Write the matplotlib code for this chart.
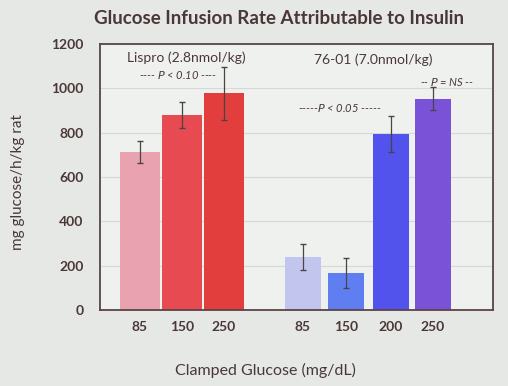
import matplotlib.pyplot as plt

# data
lispro_glucose = ['85', '150', '250']
lispro_gir = [712, 880, 978]
lispro_err = [50, 60, 120]

analog_glucose = ['85', '150', '200', '250']
analog_gir = [240, 166, 795, 952]
analog_err = [58, 68, 82, 52]

lispro_colors = ['#E8A2B0', '#E84A52', '#E23E3E']
analog_colors = ['#C2C6EE', '#5E7EF2', '#5252EC', '#7A52D8']

lispro_pos = [0, 1, 2]
analog_pos = [3.88, 4.9, 5.97, 6.97]

txt = '#4A3838'
plt.rcParams['font.family'] = ['Lato', 'DejaVu Sans']

fig = plt.figure(figsize=(5.08, 3.86), dpi=100)
fig.patch.set_facecolor('#E6E8E6')
ax = fig.add_axes([0.197, 0.197, 0.773, 0.689])
ax.set_facecolor('#EFF1EF')

ax.bar(lispro_pos, lispro_gir, width=0.93, color=lispro_colors, zorder=2)
ax.bar(analog_pos, analog_gir, width=0.85, color=analog_colors, zorder=2)
ax.errorbar(lispro_pos, lispro_gir, yerr=lispro_err, fmt='none',
            ecolor='#4A4444', elinewidth=0.9, capsize=2, zorder=3)
ax.errorbar(analog_pos, analog_gir, yerr=analog_err, fmt='none',
            ecolor='#4A4444', elinewidth=0.9, capsize=2, zorder=3)

ax.set_xlim(-0.95, 8.4)
ax.set_ylim(0, 1200)
ax.set_yticks(range(0, 1201, 200))
ax.yaxis.grid(True, color='#D6D8D6', linewidth=0.8, zorder=0)
ax.tick_params(axis='y', length=0, pad=12, labelsize=10, labelcolor=txt)
for lab in ax.get_yticklabels():
    lab.set_fontweight('bold')
ax.set_xticks(lispro_pos + analog_pos)
ax.set_xticklabels(lispro_glucose + analog_glucose)
ax.tick_params(axis='x', length=0, pad=8, labelsize=10, labelcolor=txt)
for lab in ax.get_xticklabels():
    lab.set_fontweight('bold')
for s in ax.spines.values():
    s.set_color('#5A4444')
    s.set_linewidth(1.3)

ax.set_ylabel('mg glucose/h/kg rat', fontsize=11, color=txt)
ax.yaxis.set_label_coords(-0.19, 0.48)
ax.set_xlabel('Clamped Glucose (mg/dL)', fontsize=11.5, color=txt)
ax.xaxis.set_label_coords(0.42, -0.2)
fig.suptitle('Glucose Infusion Rate Attributable to Insulin', x=0.55, y=0.975,
             fontsize=13.5, fontweight='bold', color=txt)

ax.text(1.1, 1140, 'Lispro (2.8nmol/kg)', ha='center', va='center',
        fontsize=10, color=txt)
ax.text(5.55, 1128, '76-01 (7.0nmol/kg)', ha='center', va='center',
        fontsize=10, color=txt)
ax.text(0.9, 1062, '---- $P$ < 0.10 ----', ha='center', va='center',
        fontsize=8, color=txt, style='italic')
ax.text(7.3, 1030, '-- $P$ = NS --', ha='center', va='center',
        fontsize=8, color=txt, style='italic')
ax.text(4.76, 912, '-----$P$ < 0.05 -----', ha='center', va='center',
        fontsize=8, color=txt, style='italic')

plt.savefig('out.png', dpi=100, facecolor=fig.get_facecolor())
